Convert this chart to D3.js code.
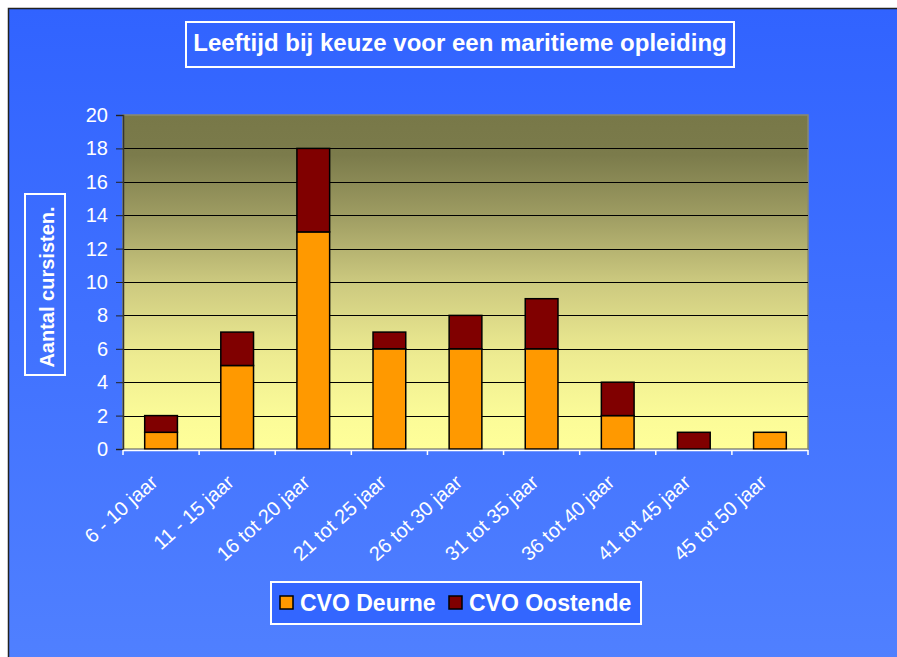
<!DOCTYPE html>
<html>
<head>
<meta charset="utf-8">
<script src="https://cdn.jsdelivr.net/npm/d3@7"></script>
<style>
  body { margin: 0; background: #fff; }
  svg { display: block; font-family: Arial, "Liberation Sans", sans-serif; }
</style>
</head>
<body>
<svg id="chart" width="897" height="657"></svg>
<script>
// data
let categories = ['6 - 10 jaar', '11 - 15 jaar', '16 tot 20 jaar', '21 tot 25 jaar', '26 tot 30 jaar',
                  '31 tot 35 jaar', '36 tot 40 jaar', '41 tot 45 jaar', '45 tot 50 jaar'];
let deurne   = [1, 5, 13, 6, 6, 6, 2, 0, 1];
let oostende = [1, 2, 5, 1, 2, 3, 2, 1, 0];
let seriesNames = ['CVO Deurne', 'CVO Oostende'];
let yTicks = [0, 2, 4, 6, 8, 10, 12, 14, 16, 18, 20];

let colors = ['#FF9900', '#800000'];

let svg = d3.select('#chart');
let W = 897, H = 657;

let defs = svg.append('defs');
let bg = defs.append('linearGradient').attr('id', 'bg').attr('x1', 0).attr('y1', 0).attr('x2', 0).attr('y2', 1);
bg.append('stop').attr('offset', '0%').attr('stop-color', '#3163FF');
bg.append('stop').attr('offset', '100%').attr('stop-color', '#5080FF');
let pg = defs.append('linearGradient').attr('id', 'plotbg').attr('x1', 0).attr('y1', 0).attr('x2', 0).attr('y2', 1);
[['0%', '#787848'], ['12%', '#7B7B4B'], ['30%', '#9E9C62'], ['50%', '#CCC97F'],
 ['72%', '#EDEB91'], ['90%', '#FBFB98'], ['100%', '#FFFF99']].forEach(s =>
    pg.append('stop').attr('offset', s[0]).attr('stop-color', s[1]));

// outer frame
svg.append('rect').attr('x', 8.5).attr('y', 8.5).attr('width', W).attr('height', H)
    .attr('fill', 'url(#bg)').attr('stroke', '#222').attr('stroke-width', 1.5);

// title
svg.append('rect').attr('x', 186).attr('y', 22).attr('width', 548).attr('height', 45)
    .attr('fill', 'none').attr('stroke', '#fff').attr('stroke-width', 2);
svg.append('text').attr('x', 460).attr('y', 51).attr('text-anchor', 'middle')
    .attr('fill', '#fff').attr('font-weight', 'bold').attr('font-size', 24)
    .text('Leeftijd bij keuze voor een maritieme opleiding');

// plot area
let pLeft = 123, pRight = 808, pTop = 115, pBottom = 449;
let x = d3.scaleBand().domain(categories).range([pLeft, pRight]).paddingInner(0.57).paddingOuter(0.285);
let y = d3.scaleLinear().domain([0, 20]).range([pBottom, pTop]);

svg.append('rect').attr('x', pLeft).attr('y', pTop).attr('width', pRight - pLeft).attr('height', pBottom - pTop)
    .attr('fill', 'url(#plotbg)').attr('stroke', '#8a8a70').attr('stroke-width', 1.5);

svg.append('g').selectAll('line').data(yTicks.filter(d => d > 0 && d < 20)).join('line')
    .attr('x1', pLeft).attr('x2', pRight)
    .attr('y1', d => Math.round(y(d)) + 0.5).attr('y2', d => Math.round(y(d)) + 0.5)
    .attr('stroke', '#000').attr('stroke-width', 1);

// stacked bars
let table = categories.map((c, i) => ({cat: c, deurne: deurne[i], oostende: oostende[i]}));
let stack = d3.stack().keys(['deurne', 'oostende'])(table);
svg.append('g').selectAll('g').data(stack).join('g')
    .attr('fill', (d, i) => colors[i])
    .selectAll('rect').data(d => d.filter(p => p[1] - p[0] > 0)).join('rect')
    .attr('x', d => x(d.data.cat))
    .attr('width', x.bandwidth())
    .attr('y', d => y(d[1]))
    .attr('height', d => y(d[0]) - y(d[1]))
    .attr('stroke', '#000').attr('stroke-width', 1.5);

// y axis
let yaxis = d3.axisLeft(y).tickValues(yTicks).tickSize(7).tickPadding(8);
let ga = svg.append('g').attr('transform', 'translate(' + pLeft + ',0)').call(yaxis);
ga.select('.domain').attr('stroke', '#333').attr('stroke-width', 1.5);
ga.selectAll('.tick line').attr('stroke', '#222');
ga.selectAll('.tick text').attr('fill', '#fff').attr('font-size', 20).attr('font-family', 'Arial, "Liberation Sans", sans-serif');

// x axis: white line with ticks on category boundaries
let gx = svg.append('g');
gx.append('line').attr('x1', pLeft).attr('x2', pRight).attr('y1', pBottom + 1.5).attr('y2', pBottom + 1.5)
    .attr('stroke', '#fff').attr('stroke-width', 1.5);
let bounds = d3.range(categories.length + 1).map(i => pLeft + i * (pRight - pLeft) / categories.length);
gx.selectAll('.xt').data(bounds).join('line').attr('class', 'xt')
    .attr('x1', d => d).attr('x2', d => d).attr('y1', pBottom + 1).attr('y2', pBottom + 6)
    .attr('stroke', '#fff').attr('stroke-width', 1.5);
gx.selectAll('text').data(categories).join('text')
    .attr('transform', d => 'translate(' + (x(d) + x.bandwidth() / 2 - 2) + ',' + (pBottom + 35) + ') rotate(-42)')
    .attr('text-anchor', 'end')
    .attr('fill', '#fff').attr('font-size', 20)
    .text(d => d);

// y axis title
svg.append('rect').attr('x', 25).attr('y', 194).attr('width', 40).attr('height', 181)
    .attr('fill', 'none').attr('stroke', '#fff').attr('stroke-width', 2);
svg.append('text').attr('transform', 'translate(54,287) rotate(-90)').attr('text-anchor', 'middle')
    .attr('fill', '#fff').attr('font-weight', 'bold').attr('font-size', 20)
    .text('Aantal cursisten.');

// legend
let lg = svg.append('g');
lg.append('rect').attr('x', 271).attr('y', 582).attr('width', 370).attr('height', 42)
    .attr('fill', '#3366FF').attr('stroke', '#fff').attr('stroke-width', 2);
let lx = [280, 449];
seriesNames.forEach((n, i) => {
    lg.append('rect').attr('x', lx[i]).attr('y', 596).attr('width', 13).attr('height', 13)
        .attr('fill', colors[i]).attr('stroke', '#000').attr('stroke-width', 1.5);
    lg.append('text').attr('x', lx[i] + 20).attr('y', 611)
        .attr('fill', '#fff').attr('font-weight', 'bold').attr('font-size', 23).text(n);
});
</script>
</body>
</html>
